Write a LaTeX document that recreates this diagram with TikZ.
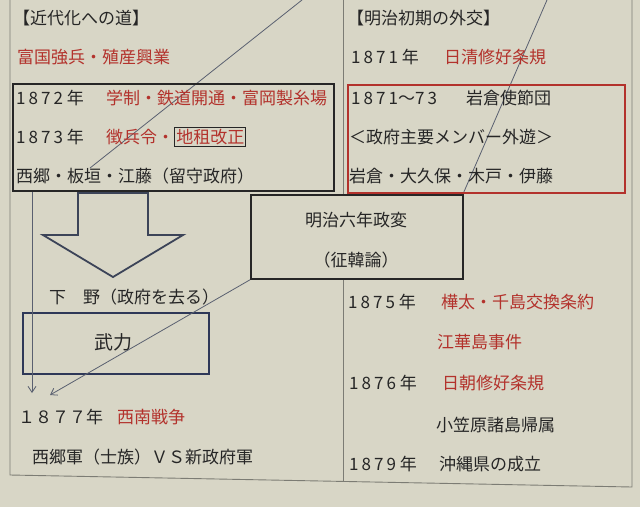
\documentclass[tikz,border=0pt]{standalone}
\usepackage{fontspec}
\setmainfont{Noto Sans CJK JP}
\usetikzlibrary{arrows.meta}
\definecolor{bg}{HTML}{D8D6C6}
\definecolor{ink}{HTML}{262626}
\definecolor{redink}{HTML}{B3322C}
\definecolor{framec}{HTML}{7C7C74}
\definecolor{navy}{HTML}{2E3858}
\definecolor{thinc}{HTML}{5A6070}
\definecolor{arrowc}{HTML}{3C4458}
\newcommand\yr[1]{{\addfontfeature{LetterSpace=18}#1}}
\tikzset{
  txt/.style={anchor=base west, inner sep=0pt, font=\fontsize{17}{20}\selectfont, text=ink},
  rtxt/.style={txt, text=redink},
  frameline/.style={draw=framec, line width=0.9pt},
  thinline/.style={draw=thinc, line width=0.8pt},
  arr/.style={-{Straight Barb[length=6pt,width=8pt]}},
  boxk/.style={draw=ink, line width=1.8pt, anchor=north west, inner sep=0pt},
}
\begin{document}
\begin{tikzpicture}[x=1pt,y=-1pt]
\useasboundingbox (0,0) rectangle (640,507);
\fill[bg] (0,0) rectangle (640,507);
% frame
\draw[frameline] (10,0) -- (10,475) -- (632,487) -- (632,0);
\draw[frameline] (343,0) -- (343,481);
% diagonal thin lines
\draw[thinline] (302,0) -- (90,168);
\draw[thinline] (547,0) -- (463,194);
% left column
\node[txt] (h1) at (13,24.5) {【近代化への道】};
\node[rtxt] (fk) at (17,63.5) {富国強兵・殖産興業};
\node[boxk, minimum width=321, minimum height=107] (lbox) at (12,83) {};
\node[txt] (y1872) at (16,104.5) {\yr{1872} 年};
\node[rtxt] (e1872) at (106,104.5) {学制・鉄道開通・富岡製糸場};
\node[txt] (y1873) at (16,143.5) {\yr{1873} 年};
\node[rtxt] (e1873) at (106,143.5) {徴兵令・};
\node[rtxt, draw=ink, line width=0.8pt, inner sep=1.5pt, anchor=base west] (chiso) at (e1873.base east) {地租改正};
\node[txt] (rusu) at (16,182.5) {西郷・板垣・江藤（留守政府）};
% right column
\node[txt] (h2) at (347,24.5) {【明治初期の外交】};
\node[txt] (y1871) at (351,63.5) {\yr{1871} 年};
\node[rtxt] (nisshin) at (444,63.5) {日清修好条規};
\node[boxk, draw=redink, minimum width=277, minimum height=108] (rbox) at (347,84) {};
\node[txt] (y7173) at (351,104.5) {\yr{1871}～\yr{73}};
\node[txt] (iwakura) at (466,104.5) {岩倉使節団};
\node[txt] (gaiyu) at (349,143.5) {＜政府主要メンバー外遊＞};
\node[txt] (members) at (349,182.5) {岩倉・大久保・木戸・伊藤};
% middle box
\node[boxk, fill=bg, minimum width=212, minimum height=84] (seihen) at (250,194) {};
\node[txt, anchor=base] (seihen1) at (356,226.5) {明治六年政変};
\node[txt, anchor=base] (seihen2) at (356,266.5) {（征韓論）};
% big hollow arrow
\draw[draw=arrowc, line width=1.8pt, line join=miter] (78,193) -- (148,193) -- (148,235) -- (183,235) -- (113,277) -- (43,235) -- (78,235) -- cycle;
\node[txt] (geya) at (49,303.5) {下　野（政府を去る）};
\node[boxk, draw=navy, minimum width=186, minimum height=61] (buryoku) at (22,312) {};
\node[txt, anchor=base, font=\fontsize{19}{22}\selectfont] (buryokut) at (113,349) {武力};
% connectors
\coordinate (vend) at (32,393);
\draw[thinline, arr] (lbox.south west -| vend) -- (vend);
\coordinate (dend) at (50,395);
\draw[thinline, arr] (seihen.south west) -- (dend);
% lower left
\node[txt] (y1877) at (18,423.5) {１８７７年};
\node[rtxt] (seinan) at (117,423.5) {西南戦争};
\node[txt] (vs) at (32,463.5) {西郷軍（士族）ＶＳ新政府軍};
% lower right
\node[txt] (y1875) at (348,308.5) {\yr{1875} 年};
\node[rtxt] (karafuto) at (441,308.5) {樺太・千島交換条約};
\node[rtxt] (kokato) at (437,348.5) {江華島事件};
\node[txt] (y1876) at (349,389.5) {\yr{1876} 年};
\node[rtxt] (nitcho) at (442,389.5) {日朝修好条規};
\node[txt] (ogasawara) at (436,431.5) {小笠原諸島帰属};
\node[txt] (y1879) at (349,470.5) {\yr{1879} 年};
\node[txt] (okinawa) at (439,470.5) {沖縄県の成立};
\end{tikzpicture}
\end{document}
